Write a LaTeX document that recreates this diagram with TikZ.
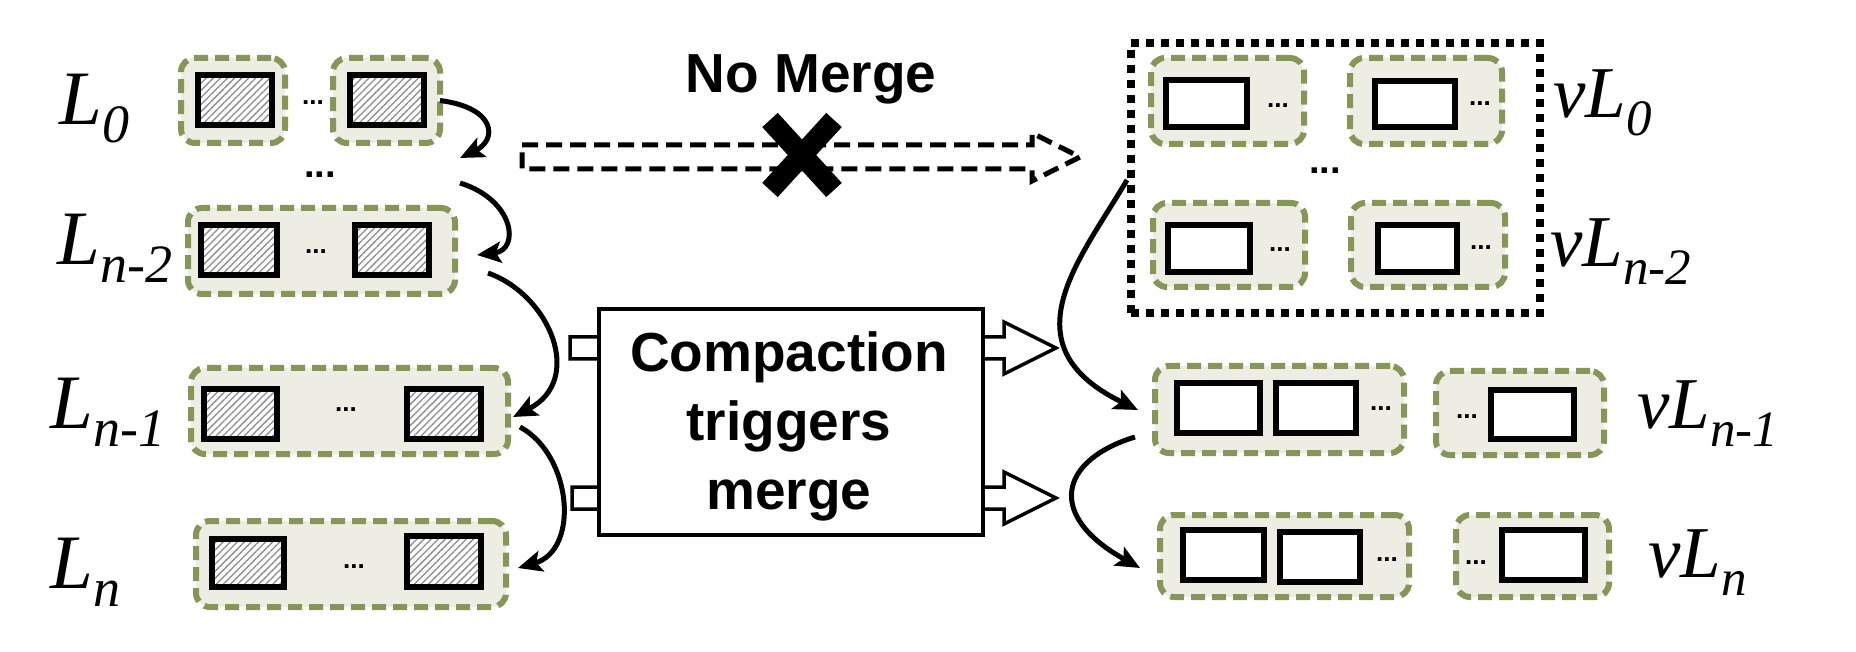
\documentclass[tikz,border=0pt]{standalone}
\usepackage{fontspec}
\setmainfont{Liberation Serif}
\newfontfamily\arialf{Liberation Sans}
\usetikzlibrary{arrows.meta,patterns.meta}
\definecolor{lvlgreen}{RGB}{134,150,88}
\definecolor{lvlfill}{RGB}{238,237,228}
% #1 style, #2 x1, #3 y1, #4 x2, #5 y2 (outer edges, px), #6 name
\newcommand\bx[6]{\node[#1,anchor=north west,inner sep=0pt,outer sep=0pt,minimum width={#4-#2-6},minimum height={#5-#3-6}] (#6) at ({#2+3},{#3+3}) {};}
\newcommand\lvlab[4]{{\fontsize{#3}{#3}\selectfont\itshape #1}\raisebox{-18pt}{\fontsize{#4}{#4}\selectfont\itshape #2}}
\begin{document}
\begin{tikzpicture}[x=1pt,y=-1pt,
  lvl/.style={draw=lvlgreen,fill=lvlfill,line width=6pt,dash pattern=on 14pt off 7pt,rounded corners=14pt},
  sst/.style={draw=black,line width=6.5pt,preaction={fill=white},pattern={Lines[angle=45,distance=5pt,line width=1.3pt]},pattern color=black!45},
  vsst/.style={draw=black,line width=6.5pt,fill=white},
  flow/.style={line width=5pt,-{Stealth[length=24pt,width=21pt,inset=5pt]}},
  blk/.style={draw=black,line width=3.5pt,fill=white,line join=miter},
  dts/.style={font=\arialf\bfseries\fontsize{26}{26}\selectfont,inner sep=0pt},
  bigdts/.style={font=\arialf\bfseries\fontsize{38}{38}\selectfont,inner sep=0pt},
  lab/.style={anchor=base west,inner sep=0pt},
  bold/.style={font=\arialf\bfseries\fontsize{55}{69}\selectfont,inner sep=0pt,align=center},
]
\fill[white] (0,0) rectangle (1856,652);
\useasboundingbox (0,0) rectangle (1856,652);

% ---------------- left levels ----------------
\node[lab] (lL0) at (59,125) {\lvlab{L}{0}{77}{54}};
\node[lab] (lL2) at (57,265) {\lvlab{L}{n-2}{77}{54}};
\node[lab] (lL1) at (50,428) {\lvlab{L}{n-1}{77}{54}};
\node[lab] (lLn) at (50,588) {\lvlab{L}{n}{77}{54}};

\bx{lvl}{178}{55}{288}{146}{L0a}
\bx{sst}{195}{72}{275}{128}{L0a1}
\node[dts] (L0d) at (313,103) {...};
\bx{lvl}{330}{55}{443}{146}{L0b}
\bx{sst}{347}{72}{427}{128}{L0b1}
\node[bigdts] (Lmid) at (320,175) {...};

\bx{lvl}{185}{205}{458}{297}{L2}
\bx{sst}{198}{222}{280}{278}{L2a}
\bx{sst}{352}{222}{432}{278}{L2b}
\node[dts] (L2d) at (316,252) {...};

\bx{lvl}{188}{365}{511}{457}{L1}
\bx{sst}{201}{386}{280}{442}{L1a}
\bx{sst}{404}{386}{484}{442}{L1b}
\node[dts] (L1d) at (346,410) {...};

\bx{lvl}{193}{518}{509}{610}{Ln}
\bx{sst}{209}{536}{287}{590}{Lna}
\bx{sst}{404}{533}{484}{590}{Lnb}
\node[dts] (Lnd) at (354,567) {...};

% level-to-level arrows (left)
\coordinate (c1) at (460,158);
\coordinate (c2) at (460,183);
\coordinate (c3) at (477,255);
\coordinate (c4) at (488,273);
\coordinate (c5) at (513,417);
\coordinate (c6) at (520,427);
\coordinate (c7) at (518,568);
\draw[flow] (L0b.east) .. controls (497,108) and (497,140) .. (c1);
\draw[flow] (c2) .. controls (515,200) and (520,250) .. (c3);
\draw[flow] (c4) .. controls (550,295) and (585,380) .. (c5);
\draw[flow] (c6) .. controls (572,455) and (580,550) .. (c7);

% ---------------- no merge ----------------
\node[bold,anchor=base] (nomerge) at (811,93) {No Merge};
\coordinate (na) at (522,145);
\coordinate (nt) at (1080,157);
\draw[line width=5pt,dash pattern=on 16pt off 8pt,fill=white]
  (na) -- (1032,145) -- (1032,133) -- (nt) -- (1032,181) -- (1032,169) -- (522,169) -- cycle;
\node[inner sep=0pt,minimum size=1pt] (xmark) at (802,155) {};
\draw[line width=21pt] ([shift={(-32,-35)}]xmark.center) -- ([shift={(32,35)}]xmark.center);
\draw[line width=21pt] ([shift={(32,-35)}]xmark.center) -- ([shift={(-32,35)}]xmark.center);

% ---------------- compaction ----------------
\draw[blk] (570,337) -- (1004,337) -- (1004,322) -- (1056,348) -- (1004,374) -- (1004,359) -- (570,359) -- cycle;
\draw[blk] (572,487) -- (1004,487) -- (1004,472) -- (1056,498) -- (1004,524) -- (1004,509) -- (572,509) -- cycle;
\node[draw=black,line width=4pt,fill=white,anchor=north west,inner sep=0pt,minimum width=384pt,minimum height=226pt] (comp) at (597,307) {};
\node[bold] (comptext) at (789,426) {Compaction\\triggers\\merge};

% ---------------- right levels ----------------
\node[draw=black,line width=8pt,dash pattern=on 8pt off 7pt,anchor=north west,inner sep=0pt,minimum width=409pt,minimum height=270pt] (vbox) at (1127,39) {};

\bx{lvl}{1148}{55}{1307}{147}{vL0a}
\bx{vsst}{1163}{77}{1250}{130}{vL0a1}
\node[dts] (vL0ad) at (1278,106) {...};
\bx{lvl}{1347}{55}{1505}{147}{vL0b}
\bx{vsst}{1372}{78}{1458}{130}{vL0b1}
\node[dts] (vL0bd) at (1480,104) {...};
\node[bigdts] (vmid) at (1325,171) {...};
\bx{lvl}{1150}{200}{1308}{290}{vL2a}
\bx{vsst}{1165}{222}{1253}{275}{vL2a1}
\node[dts] (vL2ad) at (1280,250) {...};
\bx{lvl}{1348}{200}{1508}{290}{vL2b}
\bx{vsst}{1375}{222}{1460}{275}{vL2b1}
\node[dts] (vL2bd) at (1481,248) {...};

\bx{lvl}{1152}{363}{1407}{456}{vL1a}
\bx{vsst}{1174}{380}{1263}{436}{vL1a1}
\bx{vsst}{1273}{380}{1359}{436}{vL1a2}
\node[dts] (vL1ad) at (1381,409) {...};
\bx{lvl}{1433}{368}{1607}{458}{vL1b}
\bx{vsst}{1488}{387}{1577}{442}{vL1b1}
\node[dts] (vL1bd) at (1467,417) {...};

\bx{lvl}{1157}{512}{1412}{600}{vLna}
\bx{vsst}{1180}{527}{1267}{583}{vLna1}
\bx{vsst}{1277}{529}{1363}{585}{vLna2}
\node[dts] (vLnad) at (1387,560) {...};
\bx{lvl}{1453}{512}{1612}{600}{vLnb}
\bx{vsst}{1499}{527}{1588}{583}{vLnb1}
\node[dts] (vLnbd) at (1476,563) {...};

\node[lab] (lvL0) at (1553,118) {\lvlab{vL}{0}{73}{51}};
\node[lab] (lvL2) at (1550,267) {\lvlab{vL}{n-2}{73}{51}};
\node[lab] (lvL1) at (1637,428) {\lvlab{vL}{n-1}{73}{51}};
\node[lab] (lvLn) at (1648,577) {\lvlab{vL}{n}{73}{51}};

% merge arrows (right)
\coordinate (r1) at (1127,180);
\coordinate (r2) at (1138,410);
\coordinate (r3) at (1135,437);
\coordinate (r4) at (1140,568);
\draw[flow] (r1) .. controls (1080,260) and (1005,345) .. (r2);
\draw[flow] (r3) .. controls (1060,460) and (1045,515) .. (r4);
\end{tikzpicture}
\end{document}
